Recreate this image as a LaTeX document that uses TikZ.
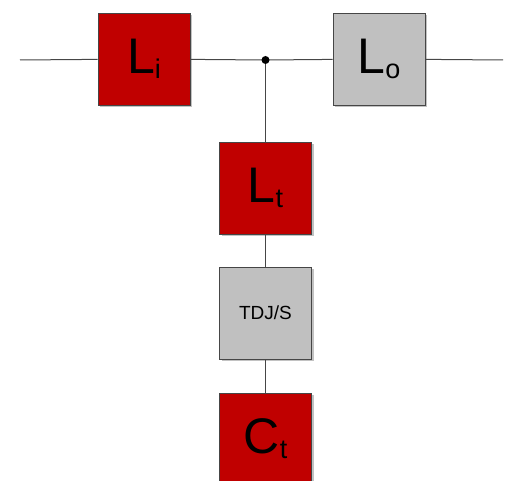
\documentclass[tikz,border=0pt]{standalone}
\usepackage{fontspec}
\setmainfont{Liberation Sans}
\usepackage{tikz}
\usetikzlibrary{shadows}

\definecolor{boxRed}{RGB}{192,0,0}
\definecolor{boxGray}{RGB}{192,192,192}
\definecolor{wireGray}{RGB}{70,70,70}

\newcommand{\bigsym}[2]{{\fontsize{50}{50}\selectfont #1}{\fontsize{27}{27}\selectfont\raisebox{-5pt}{#2}}}

\begin{document}
\begin{tikzpicture}
[x=1pt,y=-1pt,
  boxDecorate/.style={shape=rectangle,draw=wireGray,line width=0.9pt,minimum size=92pt,inner sep=0pt,
    drop shadow={shadow xshift=2pt,shadow yshift=-2pt,fill=black!40,opacity=0.6}},%
  redBox/.style={boxDecorate,fill=boxRed},%
  grayBox/.style={boxDecorate,fill=boxGray},%
  lineDecorate/.style={-,line width=1pt,draw=wireGray}]
\clip (0,0) rectangle (512,481);
%% wire ends and junction
\coordinate (left) at (20,60);
\coordinate (right) at (503,60);
\coordinate (junc) at (265.5,60);
%% boxes
\foreach \nodename/\x/\y/\kind/\label in {Li/144/59/redBox/{\bigsym{L}{i}}, Lo/379/59/grayBox/{\bigsym{L}{o}},
    Lt/265.5/188/redBox/{\bigsym{L}{t}}, tdj/265.5/313/grayBox/{\fontsize{19}{19}\selectfont TDJ/S},
    Ct/265.5/439/redBox/{\bigsym{C}{t}}} {
  \node (\nodename) at (\x,\y) [\kind] {\label};
}
%% wires
\path
\foreach \startnode/\endnode in {left/Li, Li/junc, junc/Lo, Lo/right, junc/Lt, Lt/tdj, tdj/Ct} {
  (\startnode) edge[lineDecorate] (\endnode)
};
\fill[black] (junc) circle (4pt);
\end{tikzpicture}
\end{document}
